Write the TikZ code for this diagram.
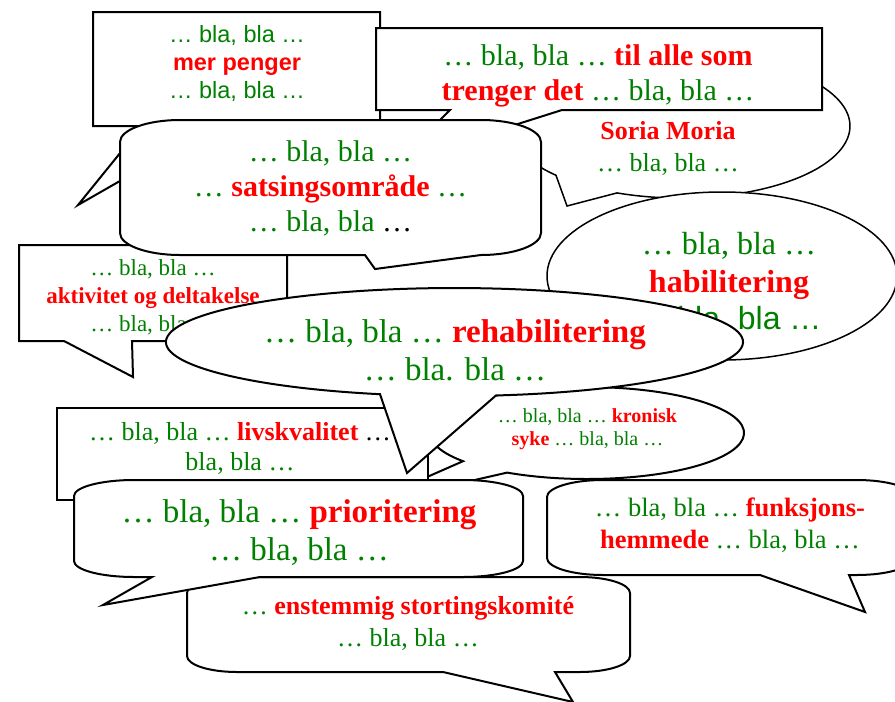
\documentclass[tikz,border=0pt]{standalone}
\usepackage{fontspec}
\setmainfont{Liberation Serif}
\newfontfamily\arialfont{Liberation Sans}
\usetikzlibrary{positioning}
\definecolor{blagreen}{RGB}{0,128,0}
\definecolor{keyred}{RGB}{255,0,0}
\newcommand{\kw}[1]{\textcolor{keyred}{\bfseries #1}}
\newcommand{\blk}[1]{\textcolor{black}{#1}}

\begin{document}
\begin{tikzpicture}[x=1pt, y=-1pt,
	bubble/.style={draw, fill=white, line width=2pt, line join=miter},
	thinbubble/.style={bubble, line width=1.5pt},
	say/.style={text=blagreen, align=center, inner sep=0pt},
	]
	\useasboundingbox (0,0) rectangle (895,702);
	\clip (0,0) rectangle (895,702);
	
	% mer penger
	\draw[bubble] (93,12) -- (380,12) -- (380,126) -- (216,126) -- (78,205) -- (142,126) -- (93,126) -- cycle;
	\node[say, font=\arialfont\fontsize{23.5}{28}\selectfont] 	(merpenger) at (237,63) 	{… bla, bla …\\\kw{mer penger}\\… bla, bla …};
	
	% Soria Moria
	\draw[thinbubble] (556,175.3) arc[start angle=136.84, end angle=471.75, x radius=170, y radius=72] -- (567,206) -- cycle;
	\node[say, font=\fontsize{26}{32}\selectfont] 				(soria) at (668,148) 		{\kw{Soria Moria}\\… bla, bla …};
	
	% til alle som trenger det
	\draw[bubble] (376,28) -- (822,28) -- (822,110) -- (562,110) -- (398,162) -- (450,110) -- (376,110) -- cycle;
	\node[say, font=\fontsize{30}{35}\selectfont] 				(tilalle) at (598,75.5) 	{… bla, bla … \kw{til alle som}\\\kw{trenger det} … bla, bla …};
	
	% aktivitet og deltakelse
	\draw[bubble] (19,245) -- (287,245) -- (287,341) -- (132,341) -- (133,377) -- (64,341) -- (19,341) -- cycle;
	\node[say, font=\fontsize{23}{28}\selectfont] 				(aktivitet) at (153,297) 	{… bla, bla …\\\kw{aktivitet og deltakelse}\\… bla, bla …};
	
	% satsingsomraade
	\draw[bubble] (180,120) -- (481,120) arc[start angle=270, end angle=360, x radius=60, y radius=22] -- (541,233) arc[start angle=0, end angle=90, x radius=60, y radius=22] -- (375,269) -- (365,255) -- (180,255) arc[start angle=90, end angle=180, x radius=60, y radius=22] -- (120,142) arc[start angle=180, end angle=270, x radius=60, y radius=22] -- cycle;
	\node[say, font=\fontsize{30}{35}\selectfont] 				(satsing) at (330.5,188.5) 	{… bla, bla …\\… \kw{satsingsområde} …\\… bla, bla \blk{…}};
	
	% habilitering
	\draw[thinbubble] (722,276) ellipse [x radius=175, y radius=84];
	\node[say, font=\fontsize{32}{37.5}\selectfont] 			(habil) at (729,283) 		{… bla, bla …\\\kw{habilitering}\\{\arialfont … bla, bla …}};
	
	% kronisk syke
	\draw[bubble] (463,461.2) arc[start angle=142.2, end angle=480.6, x radius=157, y radius=46] -- (361,506) -- cycle;
	\node[say, font=\fontsize{20}{23}\selectfont] 				(kronisk) at (587.5,429) 	{… bla, bla … \kw{kronisk}\\\kw{syke} … bla, bla …};
	
	% livskvalitet
	\draw[bubble] (57,408) rectangle (428,500);
	\node[say, font=\fontsize{26}{30}\selectfont] 				(livs) at (240,448.5) 		{… bla, bla … \kw{livskvalitet} \blk{…}\\bla, bla …};
	
	% rehabilitering
	\draw[bubble] (380,394.2) arc[start angle=104.96, end angle=441.73, x radius=288.5, y radius=54] -- (407,473) -- cycle;
	\node[say, font=\fontsize{33}{38}\selectfont] 				(rehab) at (455,350.5) 		{… bla, bla … \kw{rehabilitering}\\… bla. bla …};
	
	% enstemmig stortingskomite
	\draw[bubble] (237,577) -- (580,577) arc[start angle=270, end angle=360, x radius=50, y radius=16] -- (630,656) arc[start angle=0, end angle=90, x radius=50, y radius=16] -- (555,672) -- (573,702) -- (443,672) -- (237,672) arc[start angle=90, end angle=180, x radius=50, y radius=16] -- (187,593) arc[start angle=180, end angle=270, x radius=50, y radius=16] -- cycle;
	\node[say, font=\fontsize{26}{32}\selectfont] 				(enstemmig) at (408,623.5) 	{… \kw{enstemmig stortingskomité}\\… bla, bla …};
	
	% prioritering
	\draw[bubble] (134,480) -- (463,480) arc[start angle=270, end angle=360, x radius=60, y radius=16] -- (523,561) arc[start angle=0, end angle=90, x radius=60, y radius=16] -- (260,577) -- (103,605) -- (152,577) -- (134,577) arc[start angle=90, end angle=180, x radius=60, y radius=16] -- (74,496) arc[start angle=180, end angle=270, x radius=60, y radius=16] -- cycle;
	\node[say, font=\fontsize{33}{38}\selectfont] 				(prior) at (299,532.5) 		{… bla, bla … \kw{prioritering}\\… bla, bla …};
	
	% funksjonshemmede
	\draw[bubble] (603,480) -- (857,480) arc[start angle=270, end angle=360, x radius=56, y radius=17] -- (913,558) arc[start angle=0, end angle=90, x radius=56, y radius=17] -- (849,575) -- (865,612) -- (760,575) -- (603,575) arc[start angle=90, end angle=180, x radius=56, y radius=17] -- (547,497) arc[start angle=180, end angle=270, x radius=56, y radius=17] -- cycle;
	\node[say, font=\fontsize{26.5}{32}\selectfont] 			(funk) at (730,525.5) 		{… bla, bla … \kw{funksjons-}\\\kw{hemmede} … bla, bla …};
	
\end{tikzpicture}
\end{document}
